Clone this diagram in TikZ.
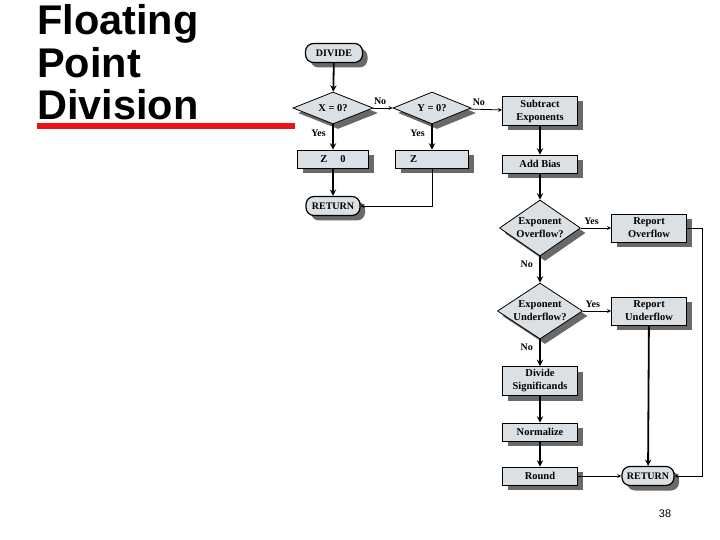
\documentclass[tikz,border=0pt]{standalone}
\usepackage{fontspec}
\setmainfont{Liberation Serif}
\newfontfamily\titlefont{Liberation Sans}
\usepackage{tikz}
\usetikzlibrary{shapes.geometric, arrows, shadows}
\definecolor{boxfill}{RGB}{218,224,228}
\definecolor{shadowgray}{RGB}{105,105,105}
\definecolor{barred}{RGB}{235,20,20}
\tikzstyle{shade} = [drop shadow={shadow xshift=5pt, shadow yshift=-5pt, fill=shadowgray, opacity=1}]
\tikzstyle{process} = [rectangle, draw, thick, fill=boxfill, shade, minimum width=75pt, minimum height=18pt, inner sep=1pt, align=center, font=\bfseries\fontsize{10.5}{13}\selectfont]
\tikzstyle{decision} = [diamond, draw, thick, fill=boxfill, shade, aspect=1.6, inner sep=0pt, align=center, font=\bfseries\fontsize{10.5}{13}\selectfont]
\tikzstyle{terminal} = [rectangle, rounded corners=8pt, draw, very thick, fill=boxfill, shade, minimum height=19pt, inner sep=2pt, font=\bfseries\fontsize{10}{12}\selectfont]
\tikzstyle{arrow} = [line width=1.8pt,->,>=stealth]
\tikzstyle{thinarrow} = [thick,->,>=stealth]
\tikzstyle{lbl} = [font=\bfseries\fontsize{10}{11}\selectfont]
\begin{document}
\begin{tikzpicture}[x=1pt,y=-1pt]
\useasboundingbox (0,0) rectangle (720,540);
% title
\node[anchor=north west, inner sep=0pt, align=left, font=\titlefont\bfseries\fontsize{41.5}{42.5}\selectfont] (title) at (37,4.5) {Floating\\Point\\Division};
\fill[barred] (37,123) rectangle (295,129);
\node[font=\titlefont\fontsize{11}{12}\selectfont] (pagenum) at (665,514) {38};

% left part
\node[terminal, minimum width=57pt] (divide) at (334,53) {DIVIDE};
\node[decision, minimum width=80pt, minimum height=32pt] (xzero) at (333,108) {X = 0?};
\node[decision, minimum width=78pt, minimum height=32pt] (yzero) at (432,108) {Y = 0?};
\node[process, minimum width=71pt] (zzero) at (333,159) {Z \quad 0};
\node[process, minimum width=73pt] (zinf) at (432,159) {Z \qquad\quad\ };
\node[terminal, minimum width=54pt] (retleft) at (333,206) {RETURN};

% right part
\node[process, minimum height=29pt] (subexp) at (540,111) {Subtract\\Exponents};
\node[process] (addbias) at (540,164) {Add Bias};
\node[decision, minimum width=81pt, minimum height=56pt] (over) at (540,228) {Exponent\\Overflow?};
\node[process, minimum height=28pt] (repover) at (649,228) {Report\\Overflow};
\node[decision, minimum width=81pt, minimum height=56pt] (under) at (540,311) {Exponent\\Underflow?};
\node[process, minimum height=28pt] (repunder) at (649,311) {Report\\Underflow};
\node[process, minimum height=29pt] (divsig) at (540,381) {Divide\\Significands};
\node[process] (norm) at (540,432) {Normalize};
\node[process] (round) at (540,476) {Round};
\node[terminal, minimum width=52pt] (retright) at (648,476) {RETURN};
\coordinate (corner) at (702,228);

% connectors
\draw[arrow] (divide) -- (xzero);
\draw[thinarrow] (xzero) -- node[lbl, pos=0.35, above] {No} (yzero);
\draw[thinarrow] (yzero) -- node[lbl, pos=0.3, above] {No} (subexp);
\draw[arrow] (xzero) -- node[lbl, pos=0.35, left=3pt] {Yes} (zzero);
\draw[arrow] (yzero) -- node[lbl, pos=0.35, left=3pt] {Yes} (zinf);
\draw[arrow] (zzero) -- (retleft);
\draw[thinarrow] (zinf) |- (retleft);
\draw[arrow] (subexp) -- (addbias);
\draw[arrow] (addbias) -- (over);
\draw[thinarrow] (over) -- node[lbl, pos=0.35, above] {Yes} (repover);
\draw[arrow] (over) -- node[lbl, pos=0.3, left=3pt] {No} (under);
\draw[thinarrow] (under) -- node[lbl, pos=0.35, above] {Yes} (repunder);
\draw[arrow] (under) -- node[lbl, pos=0.3, left=3pt] {No} (divsig);
\draw[arrow] (divsig) -- (norm);
\draw[arrow] (norm) -- (round);
\draw[thinarrow] (round) -- (retright);
\draw[arrow] (repunder) -- (retright);
\draw[thinarrow] (repover.east) -- (corner) |- (retright.east);
\end{tikzpicture}
\end{document}
